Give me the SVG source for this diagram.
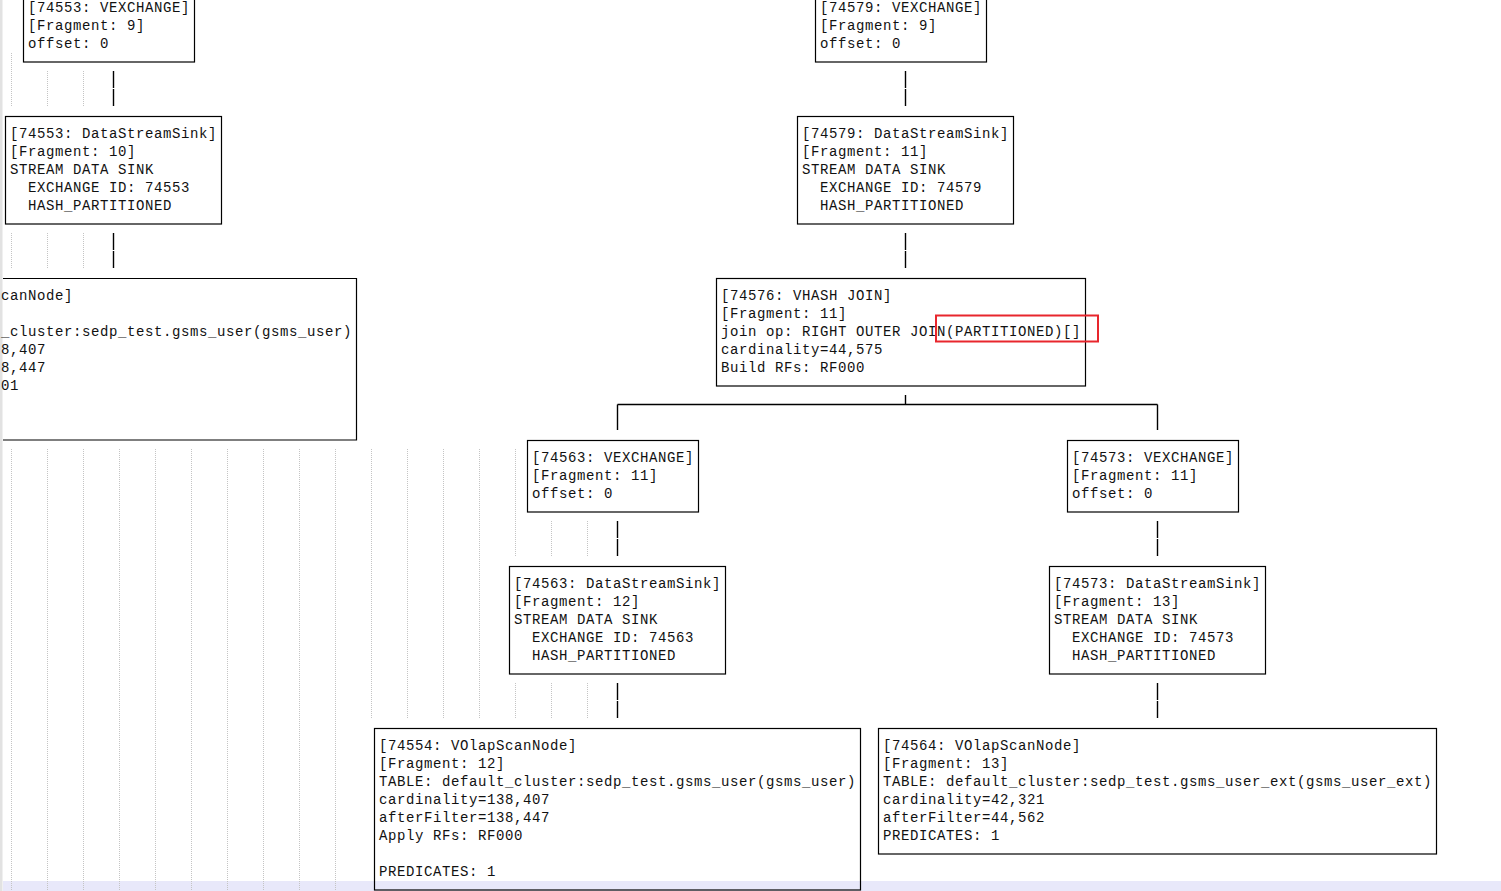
<svg xmlns="http://www.w3.org/2000/svg" width="1501" height="891" viewBox="0 0 1501 891">
<style>
.bg{fill:#ffffff}
.b{fill:none;stroke:#000;stroke-width:1.2}
.c{fill:none;stroke:#000;stroke-width:1.4}
.g{fill:none;stroke:#c4c4c4;stroke-width:1;stroke-dasharray:1 1}
.t{font-family:"Liberation Mono","DejaVu Sans Mono",monospace;font-size:14px;letter-spacing:0.6px;fill:#111}
.hl{fill:none;stroke:#e8262d;stroke-width:2}
</style>
<rect class="bg" x="0" y="0" width="1501" height="891"/>
<rect x="3" y="881" width="1498" height="10" fill="#e8e8fa"/>
<rect x="0" y="0" width="2.5" height="891" fill="#e2e2e2"/>
<g id="guides">
<path class="g" d="M11.5 53V107M11.5 233V269M11.5 449V891"/>
<path class="g" d="M47.5 71V107M47.5 233V269M47.5 449V891M83.5 71V107M83.5 233V269M83.5 449V891"/>
<path class="g" d="M119.5 449V891M155.5 449V891M191.5 449V891M227.5 449V891M263.5 449V891M299.5 449V891M335.5 449V891"/>
<path class="g" d="M371.5 449V719M407.5 449V719M443.5 449V719M479.5 449V719"/>
<path class="g" d="M515.5 449V557M515.5 683V719M551.5 521V557M551.5 683V719M587.5 521V557M587.5 683V719"/>
</g>
<g id="connectors">
<path class="c" d="M113.5 71V88M113.5 89V106M113.5 233V250M113.5 251V268"/>
<path class="c" d="M905.5 71V88M905.5 89V106M905.5 233V250M905.5 251V268"/>
<path class="c" d="M905.5 395V404.5M617.5 404.5H1157.5M617.5 404.5V430M1157.5 404.5V430"/>
<path class="c" d="M617.5 521V538M617.5 539V556M617.5 683V700M617.5 701V718"/>
<path class="c" d="M1157.5 521V538M1157.5 539V556M1157.5 683V700M1157.5 701V718"/>
</g>
<g id="n74553_vexchange">
<rect class="b" x="23.5" y="-10" width="171" height="72"/>
<text class="t" x="28" y="12">[74553: VEXCHANGE]</text>
<text class="t" x="28" y="30">[Fragment: 9]</text>
<text class="t" x="28" y="48">offset: 0</text>
</g>
<g id="n74553_sink">
<rect class="b" x="5.5" y="116.5" width="216" height="107.5"/>
<text class="t" x="10" y="138">[74553: DataStreamSink]</text>
<text class="t" x="10" y="156">[Fragment: 10]</text>
<text class="t" x="10" y="174">STREAM DATA SINK</text>
<text class="t" x="28" y="192">EXCHANGE ID: 74553</text>
<text class="t" x="28" y="210">HASH_PARTITIONED</text>
</g>
<g id="n_left_scan">
<path class="b" d="M3 278.5H356.5V440H3"/>
<text class="t" x="1" y="300">canNode]</text>
<text class="t" x="1" y="336">_cluster:sedp_test.gsms_user(gsms_user)</text>
<text class="t" x="1" y="354">8,407</text>
<text class="t" x="1" y="372">8,447</text>
<text class="t" x="1" y="390">01</text>
</g>
<g id="n74579_vexchange">
<rect class="b" x="815.5" y="-10" width="171" height="72"/>
<text class="t" x="820" y="12">[74579: VEXCHANGE]</text>
<text class="t" x="820" y="30">[Fragment: 9]</text>
<text class="t" x="820" y="48">offset: 0</text>
</g>
<g id="n74579_sink">
<rect class="b" x="797.5" y="116.5" width="216" height="107.5"/>
<text class="t" x="802" y="138">[74579: DataStreamSink]</text>
<text class="t" x="802" y="156">[Fragment: 11]</text>
<text class="t" x="802" y="174">STREAM DATA SINK</text>
<text class="t" x="820" y="192">EXCHANGE ID: 74579</text>
<text class="t" x="820" y="210">HASH_PARTITIONED</text>
</g>
<g id="n74576_join">
<rect class="b" x="716.5" y="278.5" width="369" height="107.5"/>
<text class="t" x="721" y="300">[74576: VHASH JOIN]</text>
<text class="t" x="721" y="318">[Fragment: 11]</text>
<text class="t" x="721" y="336">join op: RIGHT OUTER JOIN(PARTITIONED)[]</text>
<text class="t" x="721" y="354">cardinality=44,575</text>
<text class="t" x="721" y="372">Build RFs: RF000</text>
<rect class="hl" x="936" y="315.5" width="162" height="26"/>
</g>
<g id="n74563_vexchange">
<rect class="b" x="527.5" y="440.5" width="171" height="71.5"/>
<text class="t" x="532" y="462">[74563: VEXCHANGE]</text>
<text class="t" x="532" y="480">[Fragment: 11]</text>
<text class="t" x="532" y="498">offset: 0</text>
</g>
<g id="n74563_sink">
<rect class="b" x="509.5" y="566.5" width="216" height="107.5"/>
<text class="t" x="514" y="588">[74563: DataStreamSink]</text>
<text class="t" x="514" y="606">[Fragment: 12]</text>
<text class="t" x="514" y="624">STREAM DATA SINK</text>
<text class="t" x="532" y="642">EXCHANGE ID: 74563</text>
<text class="t" x="532" y="660">HASH_PARTITIONED</text>
</g>
<g id="n74554_scan">
<rect class="b" x="374.5" y="728.5" width="486" height="161.5"/>
<text class="t" x="379" y="750">[74554: VOlapScanNode]</text>
<text class="t" x="379" y="768">[Fragment: 12]</text>
<text class="t" x="379" y="786">TABLE: default_cluster:sedp_test.gsms_user(gsms_user)</text>
<text class="t" x="379" y="804">cardinality=138,407</text>
<text class="t" x="379" y="822">afterFilter=138,447</text>
<text class="t" x="379" y="840">Apply RFs: RF000</text>
<text class="t" x="379" y="876">PREDICATES: 1</text>
</g>
<g id="n74573_vexchange">
<rect class="b" x="1067.5" y="440.5" width="171" height="71.5"/>
<text class="t" x="1072" y="462">[74573: VEXCHANGE]</text>
<text class="t" x="1072" y="480">[Fragment: 11]</text>
<text class="t" x="1072" y="498">offset: 0</text>
</g>
<g id="n74573_sink">
<rect class="b" x="1049.5" y="566.5" width="216" height="107.5"/>
<text class="t" x="1054" y="588">[74573: DataStreamSink]</text>
<text class="t" x="1054" y="606">[Fragment: 13]</text>
<text class="t" x="1054" y="624">STREAM DATA SINK</text>
<text class="t" x="1072" y="642">EXCHANGE ID: 74573</text>
<text class="t" x="1072" y="660">HASH_PARTITIONED</text>
</g>
<g id="n74564_scan">
<rect class="b" x="878.5" y="728.5" width="558" height="125.5"/>
<text class="t" x="883" y="750">[74564: VOlapScanNode]</text>
<text class="t" x="883" y="768">[Fragment: 13]</text>
<text class="t" x="883" y="786">TABLE: default_cluster:sedp_test.gsms_user_ext(gsms_user_ext)</text>
<text class="t" x="883" y="804">cardinality=42,321</text>
<text class="t" x="883" y="822">afterFilter=44,562</text>
<text class="t" x="883" y="840">PREDICATES: 1</text>
</g>
</svg>
